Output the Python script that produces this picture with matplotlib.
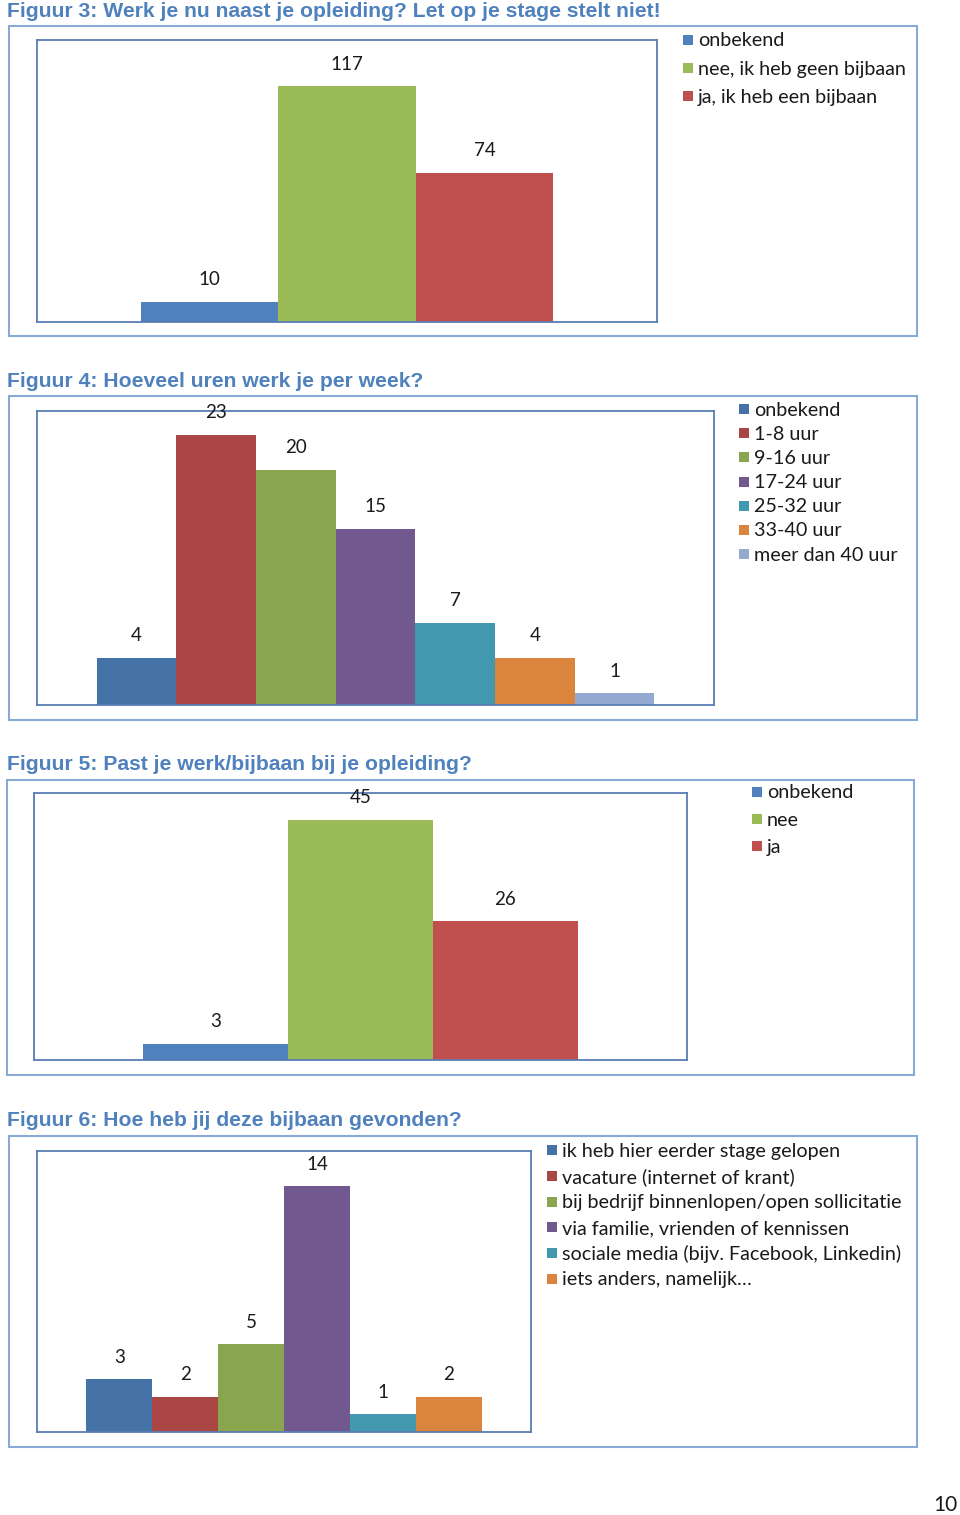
import matplotlib
matplotlib.use("Agg")
import matplotlib.pyplot as plt
from matplotlib.patches import Rectangle

W, H = 960, 1515

# Figuur 3
fig3_title = "Figuur 3: Werk je nu naast je opleiding? Let op je stage stelt niet!"
fig3_labels = ["onbekend", "nee, ik heb geen bijbaan", "ja, ik heb een bijbaan"]
fig3_values = [10, 117, 74]

# Figuur 4
fig4_title = "Figuur 4: Hoeveel uren werk je per week?"
fig4_labels = ["onbekend", "1-8 uur", "9-16 uur", "17-24 uur", "25-32 uur", "33-40 uur", "meer dan 40 uur"]
fig4_values = [4, 23, 20, 15, 7, 4, 1]

# Figuur 5
fig5_title = "Figuur 5: Past je werk/bijbaan bij je opleiding?"
fig5_labels = ["onbekend", "nee", "ja"]
fig5_values = [3, 45, 26]

# Figuur 6
fig6_title = "Figuur 6: Hoe heb jij deze bijbaan gevonden?"
fig6_labels = [
    "ik heb hier eerder stage gelopen",
    "vacature (internet of krant)",
    "bij bedrijf binnenlopen/open sollicitatie",
    "via familie, vrienden of kennissen",
    "sociale media (bijv. Facebook, Linkedin)",
    "iets anders, namelijk…",
]
fig6_values = [3, 2, 5, 14, 1, 2]

light_palette = ["#4F81BD", "#9BBB59", "#C0504D"]
dark_palette = ["#4572A7", "#AA4643", "#89A54E", "#71588F", "#4198AF", "#DB843D", "#93A9CF"]

TITLE_COLOR = "#4F81BD"
OUTER_EDGE = "#8AAAD6"
INNER_EDGE = "#5A7DB4"
TEXT_FONT = ["Lato", "DejaVu Sans"]
TITLE_FONT = ["Liberation Sans", "DejaVu Sans"]


def fx(x):
    return x / W


def fy(y):
    return 1 - y / H


def draw_chart(fig, title, labels, values, colors, ymax, group_width,
               title_y, outer, inner, legend_x, legend_y, legend_step):
    fig.text(fx(7), fy(title_y), title, fontsize=15.2, fontweight="bold",
             color=TITLE_COLOR, family=TITLE_FONT, va="center", ha="left")

    x0, y0, x1, y1 = outer
    fig.patches.append(Rectangle((fx(x0), fy(y1)), fx(x1 - x0), (y1 - y0) / H,
                                 transform=fig.transFigure, fill=False,
                                 edgecolor=OUTER_EDGE, linewidth=1.5))

    ix0, iy0, ix1, iy1 = inner
    ax = fig.add_axes([fx(ix0), fy(iy1), fx(ix1 - ix0), (iy1 - iy0) / H])
    n = len(values)
    w = group_width / n
    xs = [(i - (n - 1) / 2) * w for i in range(n)]
    bars = ax.bar(xs, values, width=w, color=colors[:n], linewidth=0, zorder=2)
    for b, v in zip(bars, values):
        ax.annotate(str(v), (b.get_x() + b.get_width() / 2, v),
                    xytext=(0, 22), textcoords="offset pixels",
                    ha="center", va="center", fontsize=13.5, family=TEXT_FONT,
                    color="#1a1a1a", annotation_clip=False)
    ax.set_xlim(-0.5, 0.5)
    ax.set_ylim(0, ymax)
    ax.set_xticks([])
    ax.set_yticks([])
    for s in ax.spines.values():
        s.set_color(INNER_EDGE)
        s.set_linewidth(1.3)

    for i, (lab, c) in enumerate(zip(labels, colors)):
        yc = legend_y + i * legend_step
        fig.patches.append(Rectangle((fx(legend_x), fy(yc + 5)), fx(10), 10 / H,
                                     transform=fig.transFigure, color=c, linewidth=0))
        fig.text(fx(legend_x + 15), fy(yc + 1), lab, fontsize=14.2, family=TEXT_FONT,
                 color="#1a1a1a", va="center", ha="left")
    return ax


fig = plt.figure(figsize=(W / 100, H / 100), dpi=100)
fig.patch.set_facecolor("white")

draw_chart(fig, fig3_title, fig3_labels, fig3_values, light_palette, 140, 0.666,
           11.5, (9, 26, 917, 336), (37, 40, 657, 322), 683, 40, 28)
draw_chart(fig, fig4_title, fig4_labels, fig4_values, dark_palette, 25, 0.824,
           381.5, (9, 396, 917, 720), (37, 411, 714, 705), 739, 409, 24.2)
draw_chart(fig, fig5_title, fig5_labels, fig5_values, light_palette, 50, 0.666,
           764.5, (7, 780, 914, 1075), (34, 793, 687, 1060), 752, 792, 27)
draw_chart(fig, fig6_title, fig6_labels, fig6_values, dark_palette, 16, 0.8,
           1120.5, (9, 1136, 917, 1447), (37, 1151, 531, 1432), 547, 1150, 25.8)

fig.text(fx(958), fy(1505), "10", fontsize=15, family=TEXT_FONT, color="#1a1a1a",
         ha="right", va="center")

fig.savefig("out.png", dpi=100)
